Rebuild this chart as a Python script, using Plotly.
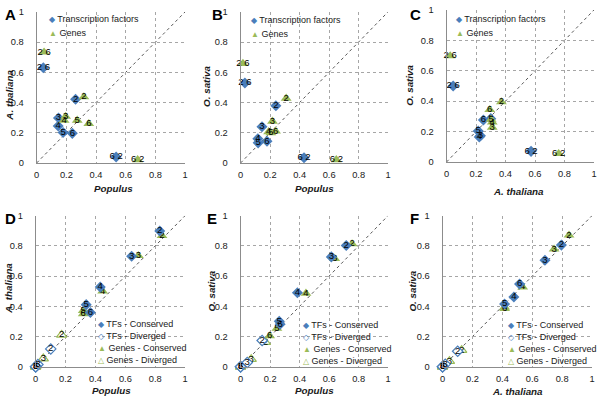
import plotly.graph_objects as go

W, H = 600, 402
FONT = "Liberation Sans, Arial, sans-serif"
BLUE = "#4A7EBB"
GREEN = "#9BBB59"

# ---------------- data ----------------
tick_vals = [0, 0.2, 0.4, 0.6, 0.8, 1]
tick_text = ["0", "0.2", "0.4", "0.6", "0.8", "1"]

# Panel A: Populus (x) vs A. thaliana (y)
A_tf_x = [0.045, 0.262, 0.147, 0.145, 0.178, 0.240, 0.535]
A_tf_y = [0.630, 0.421, 0.297, 0.245, 0.202, 0.196, 0.039]
A_tf_lab = ["2 6", "2", "3", "4", "5", "6", "6 2"]
A_gene_x = [0.050, 0.318, 0.195, 0.185, 0.273, 0.351, 0.680]
A_gene_y = [0.733, 0.437, 0.308, 0.282, 0.282, 0.260, 0.021]
A_gene_lab = ["2 6", "2", "3", "4", "5", "6", "6 2"]

# Panel B: Populus (x) vs O. sativa (y)
B_tf_x = [0.029, 0.239, 0.145, 0.117, 0.119, 0.179, 0.430]
B_tf_y = [0.529, 0.379, 0.240, 0.160, 0.133, 0.144, 0.034]
B_tf_lab = ["2 6", "2", "3", "4", "5", "6", "6 2"]
B_gene_x = [0.016, 0.309, 0.216, 0.190, 0.205, 0.237, 0.649]
B_gene_y = [0.658, 0.428, 0.276, 0.206, 0.200, 0.210, 0.021]
B_gene_lab = ["2 6", "2", "3", "4", "5", "6", "6 2"]

# Panel C: A. thaliana (x) vs O. sativa (y)
C_tf_x = [0.045, 0.300, 0.230, 0.222, 0.215, 0.250, 0.573]
C_tf_y = [0.500, 0.285, 0.172, 0.165, 0.203, 0.276, 0.070]
C_tf_lab = ["2 6", "2", "3", "4", "5", "6", "6 2"]
C_gene_x = [0.025, 0.372, 0.310, 0.310, 0.302, 0.293, 0.760]
C_gene_y = [0.697, 0.395, 0.228, 0.262, 0.280, 0.344, 0.055]
C_gene_lab = ["2 6", "2", "3", "4", "5", "6", "6 2"]

mod_lab = ["2", "3", "4", "5", "6"]

# Panel D: Populus (x) vs A. thaliana (y)
D_tfc_x = [0.830, 0.642, 0.432, 0.338, 0.366]
D_tfc_y = [0.898, 0.731, 0.527, 0.411, 0.359]
D_tfd_x = [0.101, 0.015, 0.0, 0.0, 0.0]
D_tfd_y = [0.118, 0.015, 0.0, 0.0, 0.0]
D_gc_x = [0.845, 0.687, 0.448, 0.318, 0.318]
D_gc_y = [0.867, 0.735, 0.500, 0.372, 0.350]
D_gd_x = [0.174, 0.051, 0.0, 0.0, 0.0]
D_gd_y = [0.211, 0.054, 0.0, 0.0, 0.0]

# Panel E: Populus (x) vs O. sativa (y)
E_tfc_x = [0.716, 0.615, 0.385, 0.262, 0.268]
E_tfc_y = [0.802, 0.727, 0.490, 0.301, 0.282]
E_tfd_x = [0.146, 0.045, 0.0, 0.0, 0.0]
E_tfd_y = [0.174, 0.028, 0.0, 0.0, 0.0]
E_gc_x = [0.756, 0.638, 0.443, 0.246, 0.197]
E_gc_y = [0.813, 0.716, 0.486, 0.254, 0.204]
E_gd_x = [0.168, 0.072, 0.0, 0.0, 0.0]
E_gd_y = [0.163, 0.050, 0.0, 0.0, 0.0]

# Panel F: A. thaliana (x) vs O. sativa (y)
F_tfc_x = [0.795, 0.685, 0.477, 0.415, 0.515]
F_tfc_y = [0.805, 0.705, 0.462, 0.415, 0.548]
F_tfd_x = [0.101, 0.018, 0.0, 0.0, 0.0]
F_tfd_y = [0.103, 0.017, 0.0, 0.0, 0.0]
F_gc_x = [0.846, 0.746, 0.536, 0.415, 0.415]
F_gc_y = [0.871, 0.778, 0.527, 0.395, 0.385]
F_gd_x = [0.128, 0.046, 0.0, 0.0, 0.0]
F_gd_y = [0.110, 0.037, 0.0, 0.0, 0.0]

legend_top = ["Transcription factors", "Genes"]
legend_bottom = ["TFs - Conserved", "TFs - Diverged", "Genes - Conserved", "Genes - Diverged"]

# ---------------- layout helpers ----------------
def px(x):
    return x / W

def py(y):
    return 1 - y / H

# pixel boxes of each plot area: (left, right, top, bottom)
boxes = {
    "A": (34, 184, 7, 162),
    "B": (240, 389, 7, 162),
    "C": (448, 597, 5, 161),
    "D": (33, 184, 216, 371),
    "E": (240, 389, 216, 371),
    "F": (444, 595, 216, 371),
}
xtitles = {"A": "Populus", "B": "Populus", "C": "A. thaliana",
           "D": "Populus", "E": "Populus", "F": "A. thaliana"}
ytitles = {"A": "A. thaliana", "B": "O. sativa", "C": "O. sativa",
           "D": "A. thaliana", "E": "O. sativa", "F": "O. sativa"}
xtitle_pos = {"A": (112, 188), "B": (315, 188), "C": (521, 191),
              "D": (110, 395), "E": (315, 395), "F": (520, 396)}
ytitle_pos = {"A": (7, 92), "B": (206, 83), "C": (411, 82),
              "D": (6, 290), "E": (211, 293), "F": (414, 293)}
letter_pos = {"A": (0, 10), "B": (209, 10), "C": (409, 10),
              "D": (0, 219), "E": (204, 219), "F": (409, 219)}

fig = go.Figure()
layout = dict(
    width=W, height=H, margin=dict(l=0, r=0, t=0, b=0),
    paper_bgcolor="white", plot_bgcolor="white", showlegend=False,
    font=dict(family=FONT, size=9.3, color="#1a1a1a"),
)
annotations = []
shapes = []

order = ["A", "B", "C", "D", "E", "F"]
for i, key in enumerate(order):
    l, r, t, b = boxes[key]
    n = "" if i == 0 else str(i + 1)
    axis_common = dict(
        range=[0, 1], tickvals=tick_vals, ticktext=tick_text,
        showgrid=True, gridcolor="#a6a6a6", griddash="dot", gridwidth=1,
        showline=True, linecolor="#8c8c8c", linewidth=1, zeroline=False,
        ticks="", tickfont=dict(family=FONT, size=9.3, color="#1a1a1a"),
        fixedrange=True,
    )
    layout["xaxis" + n] = dict(axis_common, domain=[px(l), px(r)], anchor="y" + n,
                               ticklabelstandoff=3)
    layout["yaxis" + n] = dict(axis_common, domain=[py(b), py(t)], anchor="x" + n,
                               ticklabelstandoff=10)
    # diagonal reference line
    shapes.append(dict(type="line", xref="x" + n, yref="y" + n, x0=0, y0=0, x1=1, y1=1,
                       line=dict(color="#444444", width=0.9, dash="dot"), layer="below"))
    # axis titles
    tx, ty = xtitle_pos[key]
    annotations.append(dict(text="<b><i>%s</i></b>" % xtitles[key], xref="paper", yref="paper",
                            x=px(tx), y=py(ty), xanchor="center",
                            yanchor="middle", showarrow=False,
                            font=dict(family=FONT, size=9.8, color="#1a1a1a")))
    vx, vy = ytitle_pos[key]
    annotations.append(dict(text="<b><i>%s</i></b>" % ytitles[key], xref="paper", yref="paper",
                            x=px(vx), y=py(vy), xanchor="center",
                            yanchor="middle", textangle=-90, showarrow=False,
                            font=dict(family=FONT, size=9.8, color="#1a1a1a")))
    lx, ly = letter_pos[key]
    annotations.append(dict(text="<b>%s</b>" % key, xref="paper", yref="paper",
                            x=px(lx), y=py(ly), xanchor="left", yanchor="middle",
                            showarrow=False, font=dict(family=FONT, size=15, color="black")))


def add(xs, ys, labels, axn, symbol, color, filled, size):
    fig.add_trace(go.Scatter(
        x=xs, y=ys, text=labels, mode="markers+text", textposition="middle center",
        xaxis="x" + axn, yaxis="y" + axn, cliponaxis=False,
        marker=dict(symbol=symbol, size=size,
                    color=color if filled else "white",
                    line=dict(color=color, width=0 if filled else 1.2)),
        textfont=dict(family=FONT, size=9.5, color="black"),
        hoverinfo="skip",
    ))


tops = [("", A_tf_x, A_tf_y, A_tf_lab, A_gene_x, A_gene_y, A_gene_lab),
        ("2", B_tf_x, B_tf_y, B_tf_lab, B_gene_x, B_gene_y, B_gene_lab),
        ("3", C_tf_x, C_tf_y, C_tf_lab, C_gene_x, C_gene_y, C_gene_lab)]
for axn, tx, ty, tl, gx, gy, gl in tops:
    add(tx, ty, tl, axn, "diamond", BLUE, True, 8.5)
    add(gx, gy, gl, axn, "triangle-up", GREEN, True, 9.5)

bottoms = [("4", D_tfc_x, D_tfc_y, D_tfd_x, D_tfd_y, D_gc_x, D_gc_y, D_gd_x, D_gd_y),
           ("5", E_tfc_x, E_tfc_y, E_tfd_x, E_tfd_y, E_gc_x, E_gc_y, E_gd_x, E_gd_y),
           ("6", F_tfc_x, F_tfc_y, F_tfd_x, F_tfd_y, F_gc_x, F_gc_y, F_gd_x, F_gd_y)]
for axn, a, b_, c, d, e, f, g, h in bottoms:
    add(g, h, mod_lab, axn, "triangle-up", GREEN, False, 9)
    add(c, d, mod_lab, axn, "diamond", BLUE, False, 8)
    add(e, f, mod_lab, axn, "triangle-up", GREEN, True, 9.5)
    add(a, b_, mod_lab, axn, "diamond", BLUE, True, 8.5)

# legends (as text annotations)
top_syms = [("\u25C6", BLUE), ("\u25B2", GREEN)]
top_leg_pos = {"A": (44, 14), "B": (248, 15), "C": (456, 14)}
for key, (lx, ly) in top_leg_pos.items():
    for j, lab in enumerate(legend_top):
        sym, col = top_syms[j]
        annotations.append(dict(
            text="<span style='color:%s;font-size:8px'>%s</span> %s" % (col, sym, lab),
            xref="paper", yref="paper", x=px(lx), y=py(ly + 15 * j),
            xanchor="left", yanchor="middle", showarrow=False,
            font=dict(family=FONT, size=9, color="#1a1a1a")))

bot_syms = [("\u25C6", BLUE), ("\u25C7", BLUE), ("\u25B2", GREEN), ("\u25B3", GREEN)]
bot_leg_pos = {"D": (94, 327), "E": (301, 328), "F": (508, 328)}
for key, (lx, ly) in bot_leg_pos.items():
    for j, lab in enumerate(legend_bottom):
        sym, col = bot_syms[j]
        annotations.append(dict(
            text="<span style='color:%s;font-size:8px'>%s</span> %s" % (col, sym, lab),
            xref="paper", yref="paper", x=px(lx), y=py(ly + 12.5 * j),
            xanchor="left", yanchor="middle", showarrow=False,
            font=dict(family=FONT, size=9, color="#1a1a1a")))

layout["annotations"] = annotations
layout["shapes"] = shapes
fig.update_layout(**layout)
fig.write_html("out.html", config={"displayModeBar": False},
               post_script="document.body.style.margin='0';")
